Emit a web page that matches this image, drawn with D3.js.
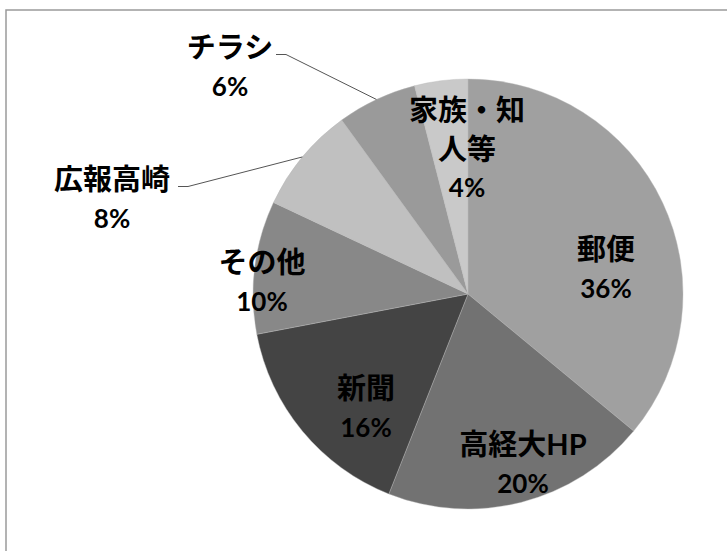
<!DOCTYPE html>
<html>
<head>
<meta charset="utf-8">
<script src="https://cdn.jsdelivr.net/npm/d3@7"></script>
<style>
  html, body { margin: 0; padding: 0; background: #fff; }
  svg { display: block; }
</style>
</head>
<body>
<script>
// 認知経路の内訳（％）
const categories = ["郵便", "高経大HP", "新聞", "その他", "広報高崎", "チラシ", "家族・知人等"];
const values = [36, 20, 16, 10, 8, 6, 4];
// 改行位置つきのラベル文字列
const labelLines = [["郵便"], ["高経大HP"], ["新聞"], ["その他"], ["広報高崎"], ["チラシ"], ["家族・知", "人等"]];
const sliceColors = ["#a0a0a0", "#727272", "#444444", "#888888", "#c0c0c0", "#9a9a9a", "#c9c9c9"];

const W = 727, H = 551;
const cx = 468, cy = 294, R = 215;

// ラベル配置（円の中心からのずれ）と引き出し線の有無
const labelLayout = [
  { dx: 138, dy: -26 },
  { dx: 55, dy: 169 },
  { dx: -102, dy: 113 },
  { dx: -206, dy: -13 },
  { dx: -356, dy: -96, leader: true, side: 66 },
  { dx: -238, dy: -228, leader: true, side: 46 },
  { dx: -1, dy: -146 }
];

const svg = d3.select("body").append("svg")
  .attr("width", W).attr("height", H);

// 外枠（上辺と左辺）
svg.append("path")
  .attr("d", `M6,${H} L6,10 L${W},10`)
  .attr("fill", "none").attr("stroke", "#9a9a9a").attr("stroke-width", 1.5);

const pie = d3.pie().sort(null).value(d => d)(values);
const arc = d3.arc().innerRadius(0).outerRadius(R);

const g = svg.append("g").attr("transform", `translate(${cx},${cy})`);

g.selectAll("path.slice").data(pie).join("path")
  .attr("class", "slice")
  .attr("d", arc)
  .attr("fill", (d, i) => sliceColors[i])
  .attr("stroke", "#b8b8b8").attr("stroke-width", 0.4);

const lineH = 39;
const fontFamily = "Lato, 'Noto Sans CJK JP', sans-serif";

pie.forEach((d, i) => {
  const lay = labelLayout[i];
  const lines = labelLines[i].concat([values[i] + "%"]);
  const n = lines.length;
  const t = g.append("text")
    .attr("text-anchor", "middle")
    .attr("font-family", fontFamily)
    .attr("font-weight", 700)
    .attr("fill", "#000");
  lines.forEach((s, k) => {
    t.append("tspan")
      .attr("x", lay.dx)
      .attr("y", lay.dy + (k - (n - 1) / 2) * lineH)
      .attr("dominant-baseline", "central")
      .attr("font-size", k === n - 1 ? 26 : 29)
      .text(s);
  });

  if (lay.leader) {
    // 扇形の外周中点へ向かう引き出し線
    const mid = (d.startAngle + d.endAngle) / 2;
    const px = R * Math.sin(mid), py = -R * Math.cos(mid);
    const sx = lay.dx + lay.side, sy = lay.dy - lineH / 2 + 8;
    g.append("path")
      .attr("d", `M${sx},${sy} L${sx + 10},${sy} L${px},${py}`)
      .attr("fill", "none").attr("stroke", "#555").attr("stroke-width", 1);
  }
});
</script>
</body>
</html>
